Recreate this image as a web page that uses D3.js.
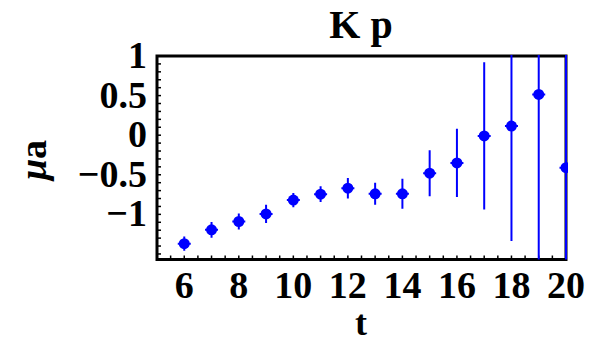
<!DOCTYPE html>
<html>
<head>
<meta charset="utf-8">
<script src="https://cdn.jsdelivr.net/npm/d3@7"></script>
<style>
  html, body { margin: 0; padding: 0; background: #fff; }
  svg { display: block; }
  text { font-family: "Liberation Serif", "DejaVu Serif", serif; font-weight: bold; fill: #000; }
</style>
</head>
<body>
<svg id="chart" width="592" height="345"></svg>
<script>
// Kp effective-mass data: time slice, central value, symmetric error
const tValues = [6, 7, 8, 9, 10, 11, 12, 13, 14, 15, 16, 17, 18, 19, 20];
const muA     = [-1.37, -1.195, -1.09, -0.995, -0.82, -0.745, -0.67, -0.74, -0.74, -0.48, -0.35, -0.01, 0.115, 0.515, -0.41];
const muAErr  = [0.09, 0.10, 0.10, 0.115, 0.09, 0.10, 0.13, 0.14, 0.19, 0.29, 0.43, 0.93, 1.45, 2.2, 2.5];

const xTicks = [6, 8, 10, 12, 14, 16, 18, 20];
const yTicks = [1, 0.5, 0, -0.5, -1];

const svg = d3.select("#chart");
const plotL = 157, plotR = 566, plotT = 56, plotB = 259.5;

const x = d3.scaleLinear().domain([5, 20]).range([plotL, plotR]);
const y = d3.scaleLinear().domain([-1.57, 1]).range([plotB, plotT]);

const blue = "#0000ff";

// inner ticks: bottom every 0.5, left every 0.1
const xMinor = d3.range(5.5, 20, 0.5);
svg.append("g").selectAll("line").data(xMinor).join("line")
  .attr("x1", d => x(d)).attr("x2", d => x(d))
  .attr("y1", plotB).attr("y2", plotB - 4)
  .attr("stroke", "#000").attr("stroke-width", 1.5);

const yMinor = d3.range(-15, 10).map(i => i / 10);
svg.append("g").selectAll("line").data(yMinor).join("line")
  .attr("x1", plotL).attr("x2", plotL + 4)
  .attr("y1", d => y(d)).attr("y2", d => y(d))
  .attr("stroke", "#000").attr("stroke-width", 1.5);

// frame
svg.append("rect")
  .attr("x", plotL).attr("y", plotT)
  .attr("width", plotR - plotL).attr("height", plotB - plotT)
  .attr("fill", "none").attr("stroke", "#000").attr("stroke-width", 3);

// tick labels
svg.append("g").selectAll("text").data(xTicks).join("text")
  .attr("x", d => x(d)).attr("y", 298)
  .attr("text-anchor", "middle")
  .style("font-size", "38px")
  .text(d => d);

svg.append("g").selectAll("text").data(yTicks).join("text")
  .attr("x", 147).attr("y", d => y(d) + 12)
  .attr("text-anchor", "end")
  .style("font-size", "38px")
  .text(d => d3.format("")(d).replace("-", "\u2212"));

// title and axis labels
svg.append("text")
  .attr("x", 361).attr("y", 38)
  .attr("text-anchor", "middle")
  .style("font-size", "40px")
  .text("K p");

svg.append("text")
  .attr("x", 361).attr("y", 335)
  .attr("text-anchor", "middle")
  .style("font-size", "36px")
  .text("t");

const yl = svg.append("text")
  .attr("transform", "translate(46,160) rotate(-90)")
  .attr("text-anchor", "middle")
  .style("font-size", "38px");
yl.append("tspan").style("font-style", "italic").text("\u03bc");
yl.append("tspan").text("a");

// data: error bars and markers, clipped to the plot area
svg.append("clipPath").attr("id", "plot-clip")
  .append("rect").attr("x", plotL).attr("y", plotT - 1)
  .attr("width", plotR - plotL + 2).attr("height", plotB - plotT + 1);

const pts = tValues.map((t, i) => ({ t, v: muA[i], e: muAErr[i] }));
const g = svg.append("g").attr("clip-path", "url(#plot-clip)");

g.selectAll("line.err").data(pts).join("line")
  .attr("class", "err")
  .attr("x1", d => x(d.t)).attr("x2", d => x(d.t))
  .attr("y1", d => y(d.v - d.e)).attr("y2", d => y(d.v + d.e))
  .attr("stroke", blue).attr("stroke-width", 2);

g.selectAll("line.hz").data(pts).join("line")
  .attr("class", "hz")
  .attr("x1", d => x(d.t) - 6.5).attr("x2", d => x(d.t) + 6.5)
  .attr("y1", d => y(d.v)).attr("y2", d => y(d.v))
  .attr("stroke", blue).attr("stroke-width", 2);

g.selectAll("circle").data(pts).join("circle")
  .attr("cx", d => x(d.t)).attr("cy", d => y(d.v))
  .attr("r", 5.5).attr("fill", blue);
</script>
</body>
</html>
